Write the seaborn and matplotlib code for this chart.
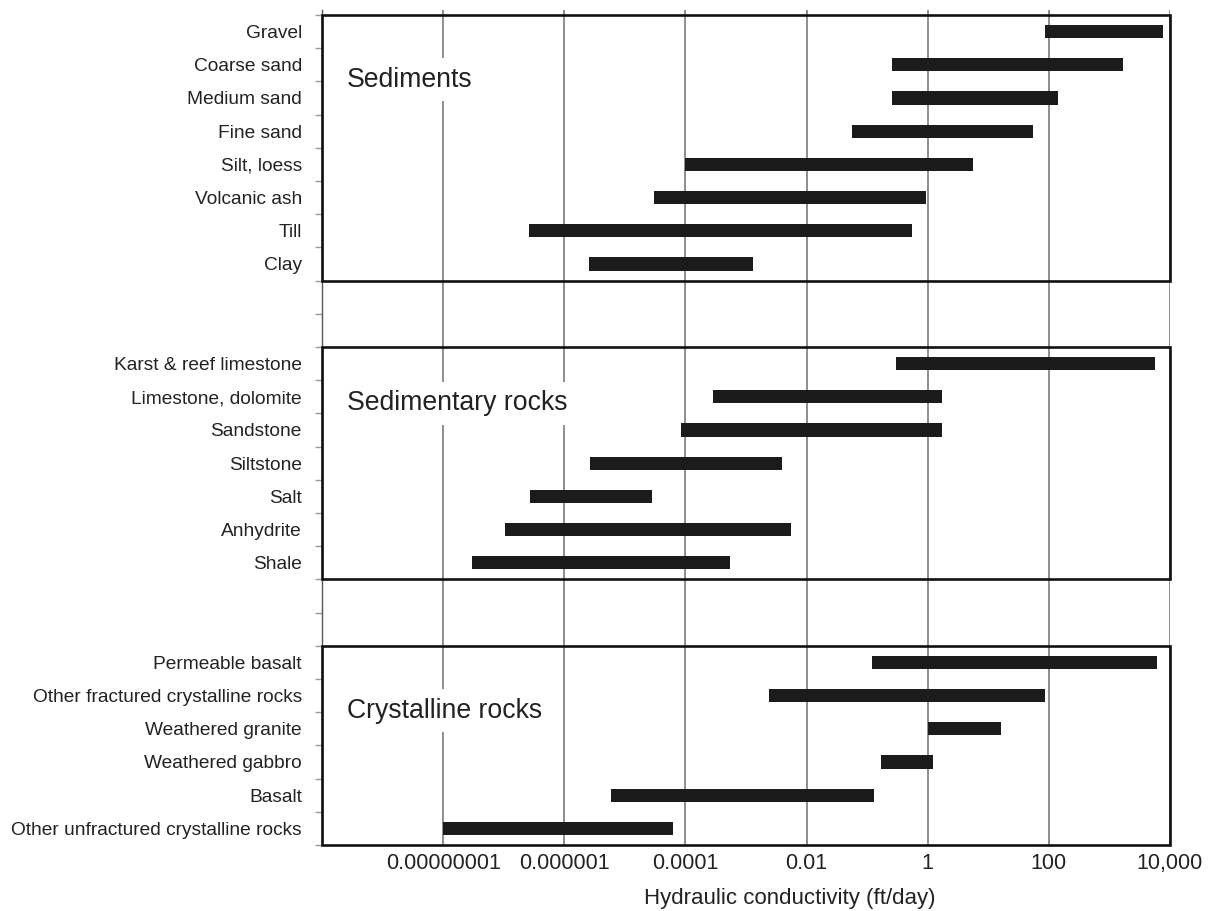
import numpy as np
import pandas as pd
import matplotlib
matplotlib.use("Agg")
import matplotlib.pyplot as plt
import seaborn as sns
from matplotlib.patches import Rectangle
from matplotlib.ticker import FixedLocator, NullLocator

# Hydraulic conductivity ranges (ft/day): lower and upper bound per material
sediment_names = ["Gravel", "Coarse sand", "Medium sand", "Fine sand",
                  "Silt, loess", "Volcanic ash", "Till", "Clay"]
sediment_low = [85, 0.26, 0.26, 0.056, 0.0001, 3e-5, 2.6e-7, 2.6e-6]
sediment_high = [7800, 1700, 140, 55, 5.5, 0.95, 0.56, 1.3e-3]

sedrock_names = ["Karst & reef limestone", "Limestone, dolomite", "Sandstone",
                 "Siltstone", "Salt", "Anhydrite", "Shale"]
sedrock_low = [0.3, 2.8e-4, 8.5e-5, 2.7e-6, 2.7e-7, 1.07e-7, 2.95e-8]
sedrock_high = [5600, 1.7, 1.7, 3.9e-3, 2.8e-5, 5.6e-3, 5.5e-4]

crystal_names = ["Permeable basalt", "Other fractured crystalline rocks",
                 "Weathered granite", "Weathered gabbro", "Basalt",
                 "Other unfractured crystalline rocks"]
crystal_low = [0.12, 2.4e-3, 1.0, 0.17, 5.9e-6, 1e-8]
crystal_high = [6000, 85, 16, 1.2, 0.13, 6.2e-5]

group_titles = ["Sediments", "Sedimentary rocks", "Crystalline rocks"]

x_tick_values = [1e-8, 1e-6, 1e-4, 1e-2, 1, 100, 1e4]
x_tick_labels = ["0.00000001", "0.000001", "0.0001", "0.01", "1", "100", "10,000"]
x_label = "Hydraulic conductivity (ft/day)"

# Layout: two empty rows separate each group
groups = [
    (group_titles[0], sediment_names, sediment_low, sediment_high),
    (group_titles[1], sedrock_names, sedrock_low, sedrock_high),
    (group_titles[2], crystal_names, crystal_low, crystal_high),
]
gap_rows = 2

records = []
spans = []
start = 0
for title, names, lows, highs in groups:
    spans.append((title, start, start + len(names)))
    for i, (n, lo, hi) in enumerate(zip(names, lows, highs)):
        records.append({"name": n, "pos": start + i + 0.5, "low": lo, "high": hi})
    start += len(names) + gap_rows
n_rows = start - gap_rows

df = pd.DataFrame(records).sort_values("pos").reset_index(drop=True)
df["span"] = df["high"] - df["low"]

sns.set_style("white")
plt.rcParams["font.family"] = ["Liberation Sans", "DejaVu Sans"]
text_color = "#222222"

fig = plt.figure(figsize=(12.14, 9.11), dpi=100)
ax = fig.add_axes([322 / 1214, 1 - 845 / 911, 848 / 1214, 835 / 911])

# Floating bars: each bar starts at the lower bound and spans to the upper bound
sns.barplot(data=df, x="span", y="pos", orient="y", native_scale=True,
            width=0.4, errorbar=None, color="#1b1b1b", saturation=1,
            linewidth=0, left=df["low"].to_numpy(), zorder=2, ax=ax)

ax.set_xscale("log")
ax.set_xlim(1e-10, 1e4)
ax.set_ylim(n_rows, -0.15)

# Vertical guide lines every two decades
ax.xaxis.set_major_locator(FixedLocator(x_tick_values))
ax.xaxis.set_minor_locator(NullLocator())
ax.set_xticklabels(x_tick_labels)
ax.grid(axis="x", which="major", color="#7a7a7a", linewidth=1.2, zorder=0)
ax.set_axisbelow(True)
ax.tick_params(axis="x", which="major", length=0, pad=6,
               labelsize=15.5, labelcolor=text_color)

# Row labels at row centres, small ticks on row boundaries
ax.yaxis.set_major_locator(FixedLocator(df["pos"].to_list()))
ax.set_yticklabels(df["name"].to_list())
ax.yaxis.set_minor_locator(FixedLocator(np.arange(0, n_rows + 1)))
ax.tick_params(axis="y", which="major", length=0, pad=14.5,
               labelsize=13.8, labelcolor=text_color)
ax.tick_params(axis="y", which="minor", left=True, length=5, width=1,
               color="#9a9a9a", direction="out")

ax.set_xlabel(x_label, fontsize=16, color=text_color)
ax.xaxis.set_label_coords(0.552, -0.052)
ax.set_ylabel("")

for side in ["top", "right", "bottom"]:
    ax.spines[side].set_visible(False)
ax.spines["left"].set_color("#555555")
ax.spines["left"].set_linewidth(1.0)

# Framed panels with titles
title_offsets = [1.95, 1.7, 1.95]
for (title, y0, y1), dy in zip(spans, title_offsets):
    rect = Rectangle((0, y0), 1, y1 - y0, transform=ax.get_yaxis_transform(),
                     fill=False, edgecolor="#111111", linewidth=1.9,
                     zorder=4, clip_on=False)
    ax.add_patch(rect)
    ax.text(0.0295, y0 + dy, title, transform=ax.get_yaxis_transform(),
            ha="left", va="center", fontsize=19.2, color=text_color, zorder=3,
            bbox=dict(facecolor="white", edgecolor="none", pad=6))

fig.savefig("out.png", dpi=100)
